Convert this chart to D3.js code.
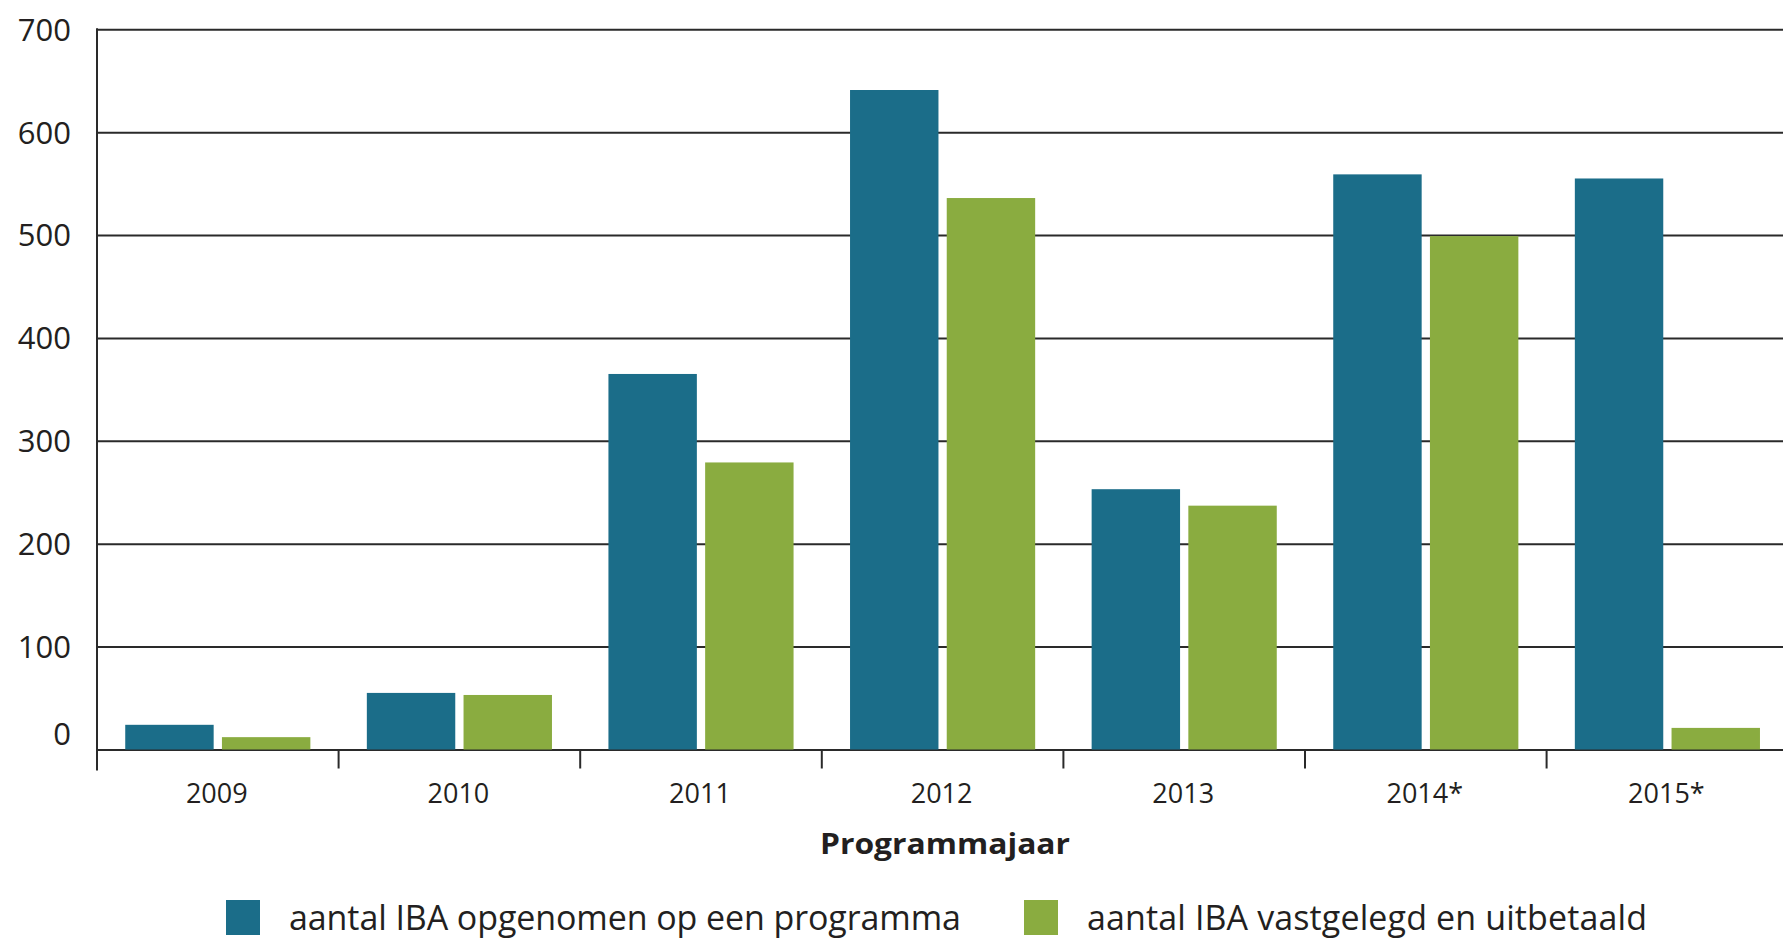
<!DOCTYPE html>
<html>
<head>
<meta charset="utf-8">
<script src="https://cdn.jsdelivr.net/npm/d3@7"></script>
<style>
  body { margin: 0; background: #fff; }
  text { font-family: "Open Sans", "Noto Sans", sans-serif; fill: #231f20; }
</style>
</head>
<body>
<div id="chart"></div>
<script>
// data
var years = ['2009', '2010', '2011', '2012', '2013', '2014*', '2015*'];
var opgenomen = [24, 55, 365, 641, 253, 559, 555];
var uitbetaald = [12, 53, 279, 536, 237, 499, 21];
var seriesNames = ['aantal IBA opgenomen op een programma', 'aantal IBA vastgelegd en uitbetaald'];
var seriesColors = ['#1b6d89', '#8aac40'];
var yTicks = [0, 100, 200, 300, 400, 500, 600, 700];

var drawChart = function() {

	var width = 1783, height = 939;
	var plotLeft = 97, plotTop = 29.3, plotBottom = 749.5;
	var step = 241.6;

	var svg = d3.select('#chart').append('svg')
			.attr('width', width)
			.attr('height', height);

	var x = d3.scaleBand()
			.domain(years)
			.range([plotLeft, plotLeft + step * years.length])
			.padding(0);

	var xs = d3.scaleBand()
			.domain([0, 1])
			.range([0, x.bandwidth()])
			.paddingInner(0.0856)
			.paddingOuter(0.292)
			.align(0.5);

	var y = d3.scaleLinear()
			.domain([0, 700])
			.range([plotBottom, plotTop]);

	// gridlines + y labels
	var yAxis = svg.append('g')
			.attr('transform', 'translate(' + plotLeft + ',0)')
			.call(d3.axisLeft(y)
				.tickValues(yTicks)
				.tickSize(-(width - plotLeft))
				.tickPadding(26));

	yAxis.select('.domain').remove();
	yAxis.selectAll('.tick line')
			.attr('stroke', '#2a2a2a')
			.attr('stroke-width', 2);
	yAxis.selectAll('.tick text')
			.style('font-size', '31px')
			.attr('fill', '#231f20')
			.attr('dy', function(d) { return d === 0 ? '-0.15em' : '0.35em'; });

	// left axis line, runs a bit below the baseline
	svg.append('line')
			.attr('x1', plotLeft).attr('x2', plotLeft)
			.attr('y1', plotTop - 1).attr('y2', plotBottom + 21)
			.attr('stroke', '#2a2a2a')
			.attr('stroke-width', 2);

	// tick marks between the years
	svg.append('g').selectAll('line')
			.data(years.slice(1))
			.enter()
			.append('line')
			.attr('x1', function(d) { return x(d); })
			.attr('x2', function(d) { return x(d); })
			.attr('y1', plotBottom)
			.attr('y2', plotBottom + 19)
			.attr('stroke', '#2a2a2a')
			.attr('stroke-width', 2);

	// bars
	var groups = svg.append('g').selectAll('g')
			.data(years)
			.enter()
			.append('g')
			.attr('transform', function(d) { return 'translate(' + x(d) + ',0)'; });

	groups.selectAll('rect')
			.data(function(d, i) { return [opgenomen[i], uitbetaald[i]]; })
			.enter()
			.append('rect')
			.attr('x', function(d, j) { return xs(j); })
			.attr('width', xs.bandwidth())
			.attr('y', function(d) { return y(d); })
			.attr('height', function(d) { return y(0) - y(d); })
			.attr('fill', function(d, j) { return seriesColors[j]; });

	// year labels
	svg.append('g').selectAll('text')
			.data(years)
			.enter()
			.append('text')
			.attr('x', function(d) { return x(d) + x.bandwidth() / 2 - 1; })
			.attr('y', 803)
			.attr('text-anchor', 'middle')
			.style('font-size', '27px')
			.text(function(d) { return d; });

	// axis title
	svg.append('text')
			.attr('x', 945)
			.attr('y', 854)
			.attr('text-anchor', 'middle')
			.attr('textLength', 250)
			.attr('lengthAdjust', 'spacingAndGlyphs')
			.style('font-size', '29px')
			.style('font-weight', 'bold')
			.text('Programmajaar');

	// legend
	var legendX = [226, 1024];
	var legendW = [672, 560];
	var legend = svg.append('g').selectAll('g')
			.data(seriesNames)
			.enter()
			.append('g')
			.attr('transform', function(d, i) { return 'translate(' + legendX[i] + ',900)'; });

	legend.append('rect')
			.attr('width', 34)
			.attr('height', 35)
			.attr('fill', function(d, i) { return seriesColors[i]; });

	legend.append('text')
			.attr('x', 63)
			.attr('y', 30)
			.attr('textLength', function(d, i) { return legendW[i]; })
			.attr('lengthAdjust', 'spacing')
			.style('font-size', '34px')
			.text(function(d) { return d; });
}

drawChart();
</script>
</body>
</html>
